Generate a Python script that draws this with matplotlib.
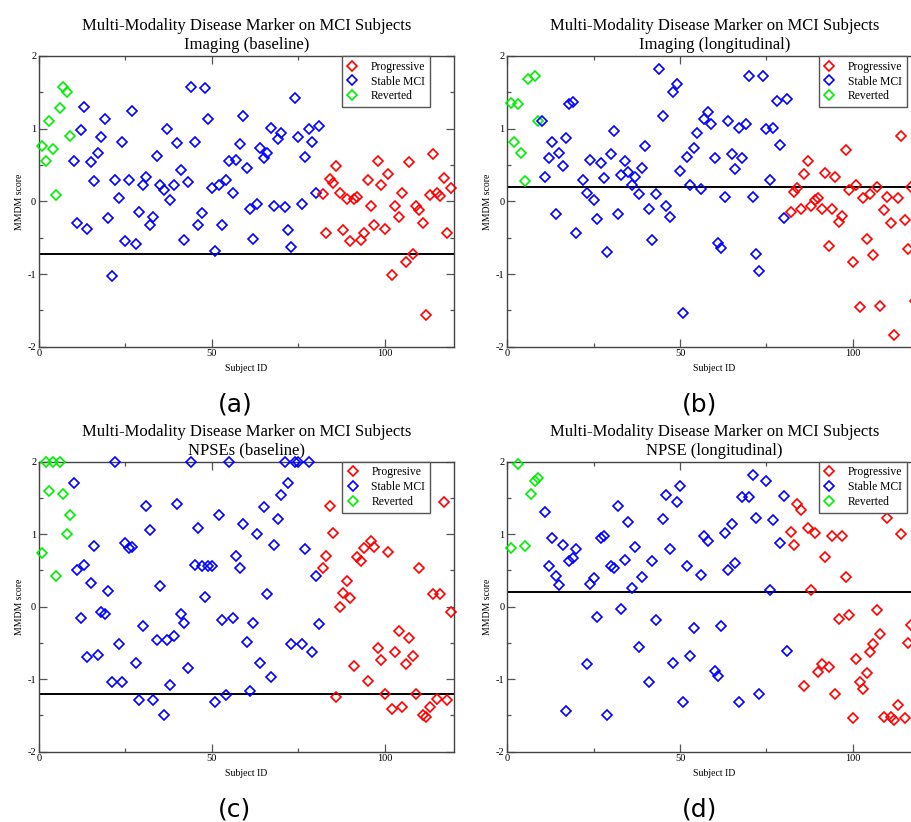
import numpy as np
import matplotlib.pyplot as plt
from matplotlib.lines import Line2D
from matplotlib.ticker import MultipleLocator

plt.rcParams['font.family'] = ['Liberation Serif', 'DejaVu Serif']
plt.rcParams['axes.unicode_minus'] = False

nan = np.nan

# subject ids per group
reverted_ids = np.arange(1, 10)
stable_ids = np.arange(10, 82)
progressive_ids = np.arange(82, 120)

# (a) imaging, baseline
img_base_rev = [0.76, 0.56, 1.10, 0.72, 0.09, 1.29, 1.58, 1.51, 0.90]
img_base_stable = [0.555, -0.30, 0.98, 1.30, -0.385, 0.545, 0.28, 0.67, 0.89, 1.13,
                   -0.23, -1.03, 0.30, 0.05, 0.81, -0.54, 0.29, 1.25, -0.58, -0.14,
                   0.23, 0.33, -0.33, -0.22, 0.62, 0.23, 0.15, 1.00, 0.02, 0.23,
                   0.80, 0.43, -0.53, 0.26, 1.58, 0.81, -0.33, -0.16, 1.56, 1.14,
                   0.19, -0.69, 0.22, -0.33, 0.29, 0.555, 0.12, 0.57, 0.79, 1.17,
                   0.46, -0.11, -0.52, -0.03, 0.74, 0.60, 0.66, 1.01, -0.06, 0.86,
                   0.94, -0.08, -0.40, -0.63, 1.42, 0.88, -0.04, 0.61, 1.00, 0.82,
                   0.11, 1.04]
img_base_prog = [0.10, -0.43, 0.31, 0.25, 0.48, 0.11, -0.39, 0.03, -0.54, 0.03,
                 0.06, -0.53, -0.44, 0.30, -0.06, -0.32, 0.555, 0.22, -0.38, 0.38,
                 -1.02, -0.07, -0.22, 0.12, -0.84, 0.54, -0.72, -0.07, -0.12, -0.30,
                 -1.56, 0.09, 0.65, 0.11, 0.08, 0.32, -0.44, 0.18]
img_base_cut = -0.72

# (b) imaging, longitudinal
img_long_rev = [1.35, 0.81, 1.34, 0.67, 0.28, 1.68, nan, 1.73, 1.11]
img_long_stable = [1.10, 0.33, 0.59, 0.81, -0.17, 0.66, 0.48, 0.87, 1.34, 1.37,
                   -0.44, nan, 0.30, 0.12, 0.57, 0.02, -0.24, 0.53, 0.32, -0.70,
                   0.65, 0.97, -0.18, 0.36, 0.555, 0.40, 0.22, 0.34, 0.10, 0.46,
                   0.76, -0.10, -0.53, 0.10, 1.82, 1.17, -0.06, -0.22, 1.51, 1.61,
                   0.42, -1.54, 0.61, 0.22, 0.73, 0.94, 0.165, 1.13, 1.23, 1.07,
                   0.60, -0.57, -0.64, 0.06, 1.10, 0.65, 0.45, 1.01, 0.60, 1.07,
                   1.73, 0.055, -0.72, -0.96, 1.72, 1.00, 0.29, 1.01, 1.38, 0.78,
                   -0.23, 1.41]
img_long_prog = [-0.15, 0.13, 0.18, -0.11, 0.38, 0.55, -0.07, 0.02, 0.04, -0.10,
                 0.39, -0.62, -0.10, 0.33, -0.28, -0.20, 0.71, 0.16, -0.84, 0.23,
                 -1.45, 0.05, -0.52, 0.10, -0.74, 0.20, -1.44, -0.12, 0.06, -0.30,
                 -1.84, 0.04, 0.90, -0.25, -0.66, 0.20, -1.37, nan]
img_long_cut = 0.20

# (c) NPSEs, baseline
npse_base_rev = [0.745, 2.0, 1.60, 2.0, 0.42, 2.0, 1.55, 1.00, 1.26]
npse_base_stable = [1.71, 0.50, -0.15, 0.575, -0.69, 0.33, 0.84, -0.66, -0.07, -0.105,
                    0.22, -1.04, 2.0, -0.51, -1.04, 0.88, 0.81, 0.82, -0.78, -1.28,
                    -0.26, 1.39, 1.06, -1.29, -0.46, 0.29, -1.50, -0.46, -1.08, -0.41,
                    1.41, -0.105, -0.22, -0.85, 2.0, 0.58, 1.09, 0.565, 0.13, 0.565,
                    0.565, -1.31, 1.26, -0.19, -1.22, 2.0, -0.15, 0.70, 0.53, 1.14,
                    -0.49, -1.16, -0.22, 1.00, -0.77, 1.37, 0.17, -0.97, 0.85, 1.21,
                    1.54, 2.0, 1.71, -0.51, 2.0, 2.0, -0.51, 0.80, 2.0, -0.62,
                    0.43, -0.24]
npse_base_prog = [0.54, 0.70, 1.39, 1.02, -1.25, 0.00, 0.19, 0.35, 0.12, -0.82,
                  0.69, 0.63, 0.81, -1.03, 0.91, 0.82, -0.57, -0.73, -1.20, 0.76,
                  -1.41, -0.62, -0.33, -1.38, -0.79, -0.43, -0.68, -1.21, 0.53, -1.49,
                  -1.52, -1.38, 0.18, -1.27, 0.18, 1.45, -1.29, -0.07]
npse_base_cut = -1.21

# (d) NPSE, longitudinal
npse_long_rev = [0.81, nan, 1.97, nan, 0.84, nan, 1.55, 1.73, 1.77]
npse_long_stable = [nan, 1.31, 0.56, 0.95, 0.42, 0.30, 0.85, -1.44, 0.63, 0.67,
                    0.80, nan, nan, -0.79, 0.31, 0.39, -0.14, 0.95, 0.98, -1.50,
                    0.56, 0.54, 1.39, -0.03, 0.65, 1.17, 0.26, 0.82, -0.55, 0.41,
                    nan, -1.04, 0.63, -0.18, nan, 1.21, 1.54, 0.79, -0.78, 1.44,
                    1.67, -1.31, 0.56, -0.68, -0.29, nan, 0.44, 0.97, 0.90, nan,
                    -0.88, -0.95, -0.26, 1.01, 0.51, 1.14, 0.60, -1.31, 1.51, nan,
                    1.52, 1.81, 1.22, -1.20, nan, 1.74, 0.23, 1.19, nan, 0.88,
                    1.53, -0.61]
npse_long_prog = [1.03, 0.85, 1.41, 1.33, -1.09, 1.08, 0.23, 1.01, -0.90, -0.79,
                  0.69, -0.83, 0.98, -1.20, -0.17, 0.98, 0.41, -0.115, -1.54, -0.72,
                  -1.04, -1.13, -0.915, -0.625, -0.515, -0.05, -0.38, -1.52, 1.23, -1.52,
                  -1.56, -1.35, 1.00, -1.53, -0.50, -0.25, nan, nan]
npse_long_cut = 0.20

RED, BLUE, GREEN = '#ff0000', '#0000ff', '#00ee00'

W, H = 911, 822
fig = plt.figure(figsize=(W / 100, H / 100), dpi=100)


def px_axes(left, top, right, bottom):
    return fig.add_axes([left / W, 1 - bottom / H, (right - left) / W, (bottom - top) / H])


def panel(ax, rev, stable, prog, cut, subtitle, prog_label, leg_right):
    ax.axhline(cut, color='black', lw=1.4, zorder=1)
    kw = dict(ls='none', marker='D', ms=4.9, mfc='none', mew=1.2, clip_on=False, zorder=3)
    ax.plot(reverted_ids, rev, mec=GREEN, **kw)
    ax.plot(stable_ids, stable, mec=BLUE, **kw)
    ax.plot(progressive_ids, prog, mec=RED, **kw)

    ax.set_xlim(0, 120)
    ax.set_ylim(-2, 2)
    ax.xaxis.set_major_locator(MultipleLocator(50))
    ax.xaxis.set_minor_locator(MultipleLocator(25))
    ax.yaxis.set_major_locator(MultipleLocator(1))
    ax.yaxis.set_minor_locator(MultipleLocator(0.5))
    ax.tick_params(which='both', direction='in', top=True, right=True,
                   color='#555555', width=0.9, labelsize=7.5, pad=2)
    ax.tick_params(which='major', length=6)
    ax.tick_params(which='minor', length=3)
    for s in ax.spines.values():
        s.set_color('#444444')
        s.set_linewidth(1.0)

    ax.set_title('Multi-Modality Disease Marker on MCI Subjects\n' + subtitle,
                 fontsize=12, pad=5, linespacing=1.25)
    ax.set_xlabel('Subject ID', fontsize=7)
    ax.set_ylabel('MMDM score', fontsize=7)
    ax.xaxis.set_label_coords(0.5, -0.06)
    ax.yaxis.set_label_coords(-0.037, 0.5)

    handles = [Line2D([], [], ls='none', marker='D', ms=4.9, mfc='none', mew=1.2, mec=c)
               for c in (RED, BLUE, GREEN)]
    leg = ax.legend(handles, [prog_label, 'Stable MCI', 'Reverted'],
                    loc='upper right', bbox_to_anchor=(leg_right, 1.0), borderaxespad=0,
                    fontsize=8.4, handlelength=1.0, handletextpad=1.1,
                    labelspacing=0.25, borderpad=0.4, fancybox=False, framealpha=1)
    leg.get_frame().set_edgecolor('#555555')
    leg.get_frame().set_linewidth(1.0)


ax_a = px_axes(39, 56, 454, 346.7)
ax_b = px_axes(507.3, 56, 921.8, 346.7)
ax_c = px_axes(39, 461.7, 454, 751.7)
ax_d = px_axes(507.3, 461.7, 921.8, 751.7)

panel(ax_a, img_base_rev, img_base_stable, img_base_prog, img_base_cut,
      'Imaging (baseline)', 'Progressive', 0.942)
panel(ax_b, img_long_rev, img_long_stable, img_long_prog, img_long_cut,
      'Imaging (longitudinal)', 'Progressive', 0.964)
panel(ax_c, npse_base_rev, npse_base_stable, npse_base_prog, npse_base_cut,
      'NPSEs (baseline)', 'Progresive', 0.942)
panel(ax_d, npse_long_rev, npse_long_stable, npse_long_prog, npse_long_cut,
      'NPSE (longitudinal)', 'Progressive', 0.964)

for label, x, y in [('(a)', 235, 404), ('(b)', 700, 404), ('(c)', 235, 809), ('(d)', 700, 809)]:
    fig.text(x / W, 1 - y / H, label, fontsize=18, family='DejaVu Sans',
             ha='center', va='center')

fig.savefig('out.png', dpi=100)
